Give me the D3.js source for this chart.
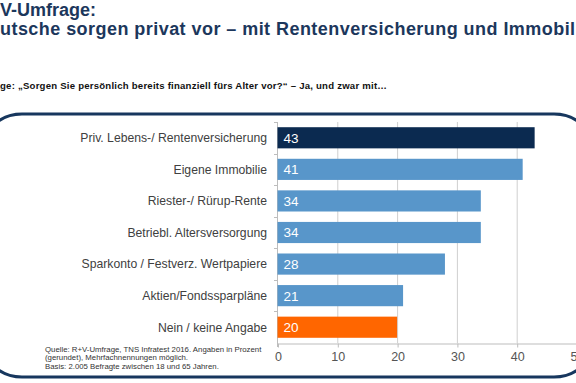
<!DOCTYPE html>
<html>
<head>
<meta charset="utf-8">
<script src="https://cdn.jsdelivr.net/npm/d3@7"></script>
<style>
  body { margin: 0; background: #fff; }
  svg { display: block; font-family: "Liberation Sans", Arial, sans-serif; }
</style>
</head>
<body>
<div id="chart"></div>
<script>
var categories = ["Priv. Lebens-/ Rentenversicherung", "Eigene Immobilie", "Riester-/ Rürup-Rente",
    "Betriebl. Altersversorgung", "Sparkonto / Festverz. Wertpapiere", "Aktien/Fondssparpläne",
    "Nein / keine Angabe"];
var values = [43, 41, 34, 34, 28, 21, 20];
var barColors = ["#0b2a50", "#5896ca", "#5896ca", "#5896ca", "#5896ca", "#5896ca", "#ff6600"];
var xTicks = [0, 10, 20, 30, 40, 50];

var width = 576, height = 383;

var svg = d3.select("#chart").append("svg")
    .attr("width", width)
    .attr("height", height);

// titel (links abgeschnitten wie im Original)
function cutText(sel, full, hidden) {
    var t = sel.text(hidden);
    var w = t.node().getComputedTextLength();
    t.text(full).attr("x", -w);
}

var t1 = svg.append("text")
    .attr("y", 15.5)
    .style("font-size", "18px")
    .style("font-weight", "bold")
    .style("fill", "#1c375c");
cutText(t1, "R+V-Umfrage:", "R+");

var t2 = svg.append("text")
    .attr("y", 34.5)
    .style("font-size", "18px")
    .style("font-weight", "bold")
    .style("letter-spacing", "0.45px")
    .style("fill", "#1c375c");
cutText(t2, "Deutsche sorgen privat vor – mit Rentenversicherung und Immobilien", "De");

var t3 = svg.append("text")
    .attr("y", 89)
    .style("font-size", "9.6px")
    .style("font-weight", "bold")
    .style("letter-spacing", "0.22px")
    .style("fill", "#111");
cutText(t3, "Frage: „Sorgen Sie persönlich bereits finanziell fürs Alter vor?“ – Ja, und zwar mit…", "Fra");

// rahmen
svg.append("rect")
    .attr("x", -10)
    .attr("y", 114)
    .attr("width", 596)
    .attr("height", 263)
    .attr("rx", 32)
    .attr("ry", 22)
    .attr("fill", "none")
    .attr("stroke", "#17375e")
    .attr("stroke-width", 3);

// scales
var x = d3.scaleLinear()
    .domain([0, 50])
    .range([277.5, 576.5]);

var y = d3.scaleBand()
    .domain(categories)
    .range([122, 343])
    .paddingInner(0.33)
    .paddingOuter(0.165);

var yOuter = d3.scaleBand()
    .domain(categories)
    .range([122, 343]);

// gridlines
svg.append("g")
    .selectAll("line")
    .data(xTicks.slice(1))
    .enter()
    .append("line")
    .attr("x1", function(d) { return x(d) + 0.5; })
    .attr("x2", function(d) { return x(d) + 0.5; })
    .attr("y1", 122)
    .attr("y2", 343)
    .attr("stroke", "#cfcfcf");

// x axis
var xAxis = svg.append("g")
    .attr("transform", "translate(0.5,343.5)")
    .call(d3.axisBottom(x).tickValues(xTicks).tickSize(4).tickSizeOuter(0));
xAxis.select(".domain").attr("stroke", "#bdbdbd");
xAxis.selectAll(".tick line").attr("stroke", "#bdbdbd");
xAxis.selectAll(".tick text")
    .attr("dy", "0.71em")
    .attr("y", 9)
    .style("font-size", "12.5px")
    .style("font-family", "Liberation Sans, Arial, sans-serif")
    .style("fill", "#555");

// y axis (linie + ticks zwischen kategorien)
svg.append("line")
    .attr("x1", 277.5).attr("x2", 277.5)
    .attr("y1", 122).attr("y2", 347)
    .attr("stroke", "#bdbdbd");
svg.append("g")
    .selectAll("line")
    .data(categories)
    .enter()
    .append("line")
    .attr("x1", 274)
    .attr("x2", 277.5)
    .attr("y1", function(d) { return Math.round(yOuter(d)) + 0.5; })
    .attr("y2", function(d) { return Math.round(yOuter(d)) + 0.5; })
    .attr("stroke", "#bdbdbd");

// bars
svg.selectAll("rect.bar")
    .data(values)
    .enter()
    .append("rect")
    .attr("class", "bar")
    .attr("x", x(0))
    .attr("y", function(d, i) { return y(categories[i]); })
    .attr("width", function(d) { return x(d) - x(0); })
    .attr("height", y.bandwidth())
    .attr("fill", function(d, i) { return barColors[i]; });

// werte
svg.selectAll("text.val")
    .data(values)
    .enter()
    .append("text")
    .attr("class", "val")
    .attr("x", x(0) + 6)
    .attr("y", function(d, i) { return y(categories[i]) + y.bandwidth() / 2; })
    .attr("dy", "0.36em")
    .style("font-size", "13.5px")
    .style("fill", "#fff")
    .text(function(d) { return d; });

// kategorien
svg.selectAll("text.cat")
    .data(categories)
    .enter()
    .append("text")
    .attr("class", "cat")
    .attr("x", 267)
    .attr("y", function(d) { return y(d) + y.bandwidth() / 2; })
    .attr("dy", "0.36em")
    .attr("text-anchor", "end")
    .style("font-size", "12.2px")
    .style("fill", "#404040")
    .text(function(d) { return d; });

// quelle
var notes = ["Quelle: R+V-Umfrage, TNS Infratest 2016. Angaben in Prozent",
    "(gerundet), Mehrfachnennungen möglich.",
    "Basis: 2.005 Befragte zwischen 18 und 65 Jahren."];
svg.selectAll("text.note")
    .data(notes)
    .enter()
    .append("text")
    .attr("class", "note")
    .attr("x", 45)
    .attr("y", function(d, i) { return 351.5 + i * 8.5; })
    .style("font-size", "7.8px")
    .style("fill", "#333")
    .text(function(d) { return d; });
</script>
</body>
</html>
